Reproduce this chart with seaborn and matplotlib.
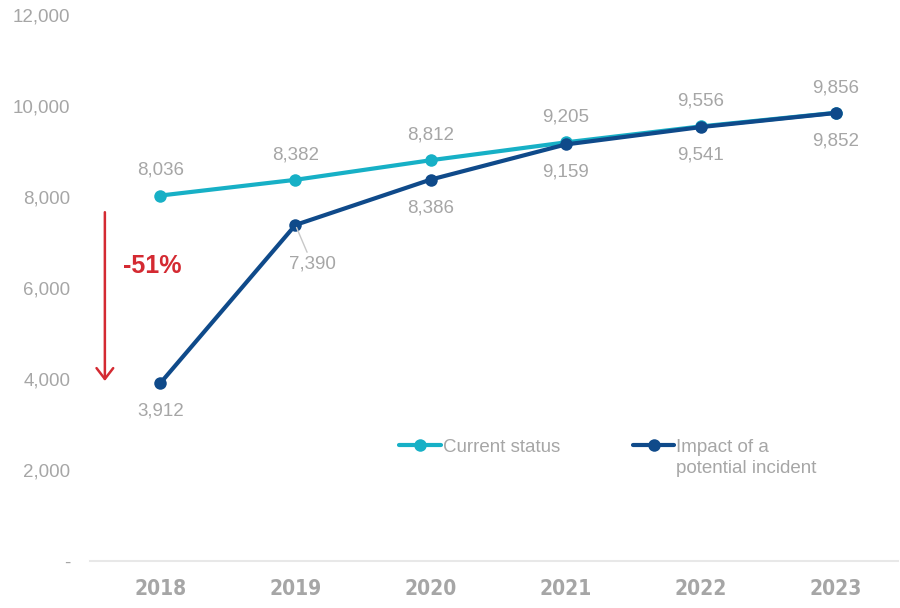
import matplotlib
matplotlib.use("Agg")
import matplotlib.pyplot as plt
import seaborn as sns
import pandas as pd
from matplotlib.lines import Line2D

years = ["2018", "2019", "2020", "2021", "2022", "2023"]
current = [8036, 8382, 8812, 9205, 9556, 9856]
impact = [3912, 7390, 8386, 9159, 9541, 9852]
series_names = ["Current status", "Impact of a\npotential incident"]
y_ticks = [0, 2000, 4000, 6000, 8000, 10000, 12000]
y_tick_labels = ["-", "2,000", "4,000", "6,000", "8,000", "10,000", "12,000"]
drop_label = "-51%"

c_cur = "#17B0C6"
c_imp = "#0F4A8A"
gray = "#A6A6A6"

sns.set_theme(style="white")
plt.rcParams["font.family"] = ["Liberation Sans", "DejaVu Sans"]

df = pd.DataFrame({"year": years * 2,
                   "value": current + impact,
                   "series": [series_names[0]] * 6 + [series_names[1]] * 6})

fig = plt.figure(figsize=(9, 6.08), dpi=100)
ax = fig.add_axes([0.1, 0.077, 0.898, 0.898])

sns.lineplot(data=df, x="year", y="value", hue="series", palette=[c_cur, c_imp],
             marker="o", markersize=9, linewidth=3, markeredgewidth=0, ax=ax,
             legend=False, sort=False)

ax.set_ylim(0, 12000)
ax.set_xlim(-0.52, 5.46)
ax.set_yticks(y_ticks)
ax.set_yticklabels(y_tick_labels)
ax.set_xlabel("")
ax.set_ylabel("")
for s in ["top", "right", "left"]:
    ax.spines[s].set_visible(False)
ax.spines["bottom"].set_color("#E8E8E8")
ax.spines["bottom"].set_linewidth(1.5)
ax.tick_params(axis="y", length=0, pad=14, labelsize=13.5, labelcolor=gray)
ax.tick_params(axis="x", length=0, pad=13, labelsize=15, labelcolor=gray)
for t in ax.get_xticklabels():
    t.set_fontfamily(["DejaVu Sans"])
    t.set_fontstretch("condensed")
    t.set_fontweight("bold")

# data labels
for i, v in enumerate(current):
    ax.annotate(f"{v:,}", (i, v), xytext=(0, 12), textcoords="offset points",
                ha="center", va="bottom", fontsize=13.5, color=gray)
for i, v in enumerate(impact):
    if i == 1:
        ax.annotate(f"{v:,}", (i, v), xytext=(12, -22), textcoords="offset points",
                    ha="center", va="top", fontsize=13.5, color=gray,
                    arrowprops=dict(arrowstyle="-", color="#C8C8C8", lw=1,
                                    shrinkA=0, shrinkB=2))
    else:
        ax.annotate(f"{v:,}", (i, v), xytext=(0, -14), textcoords="offset points",
                    ha="center", va="top", fontsize=13.5, color=gray)

# drop arrow
ax.annotate("", xy=(-0.41, 3960), xytext=(-0.41, 7670),
            arrowprops=dict(arrowstyle="->,head_width=0.5,head_length=0.65",
                            color="#D42A32", lw=1.8, shrinkA=0, shrinkB=0))
ax.text(-0.06, 6480, drop_label, ha="center", va="center", fontsize=18,
        fontweight="bold", color="#D42A32")

handles = [Line2D([], [], color=c, lw=3, marker="o", markersize=9, markeredgewidth=0)
           for c in [c_cur, c_imp]]
leg = ax.legend(handles, series_names, ncol=2, frameon=False, fontsize=13.5,
                loc="upper left", bbox_to_anchor=(0.362, 0.255), handlelength=2.2,
                handletextpad=0.1, columnspacing=3.9, labelcolor=gray)
for t in leg.get_texts():
    t.set_linespacing(1.3)
leg._legend_handle_box.align = "top"
for col in leg._legend_handle_box.get_children():
    for item in col.get_children():
        item.align = "top"

fig.savefig("out.png", dpi=100, facecolor="white")
